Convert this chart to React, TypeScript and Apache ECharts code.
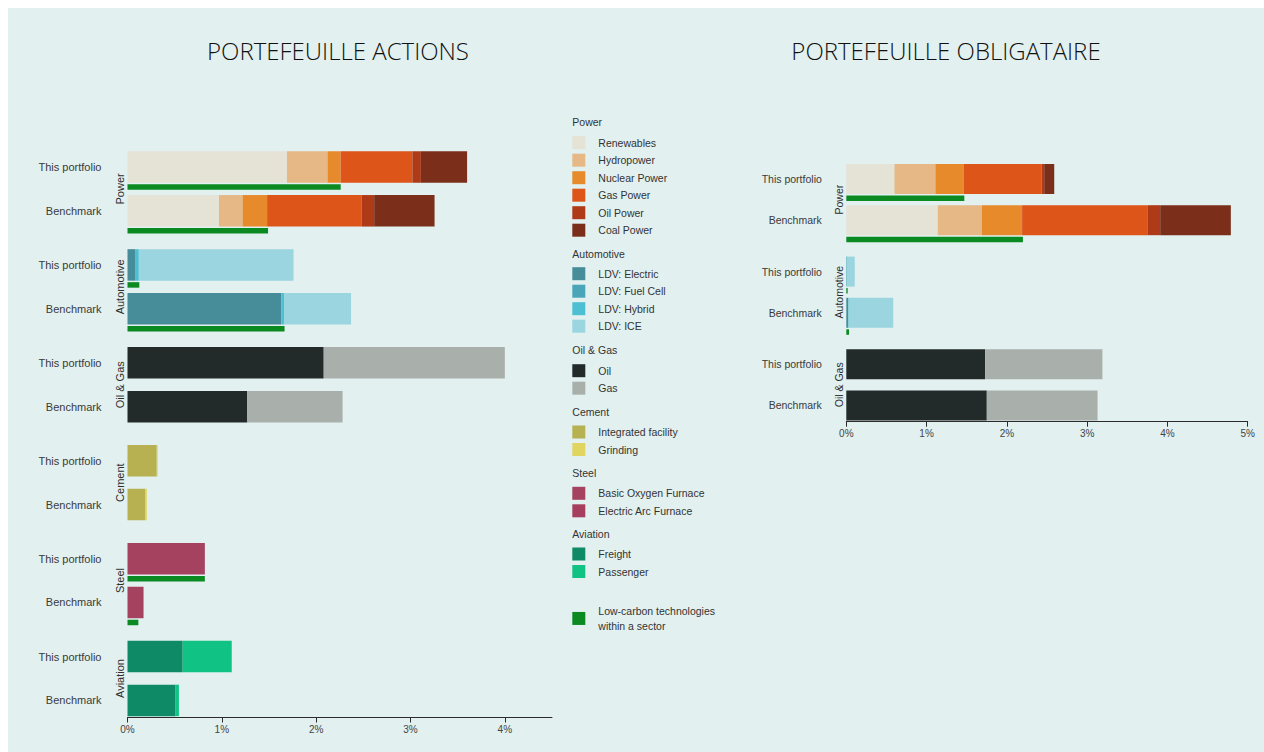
import React, { useEffect, useRef } from 'react';
import * as echarts from 'echarts';

// ---------- categories ----------
const techNames = [
  'Renewables', 'Hydropower', 'Nuclear Power', 'Gas Power', 'Oil Power', 'Coal Power',
  'LDV: Electric', 'LDV: Fuel Cell', 'LDV: Hybrid', 'LDV: ICE',
  'Oil', 'Gas',
  'Integrated facility', 'Grinding',
  'Basic Oxygen Furnace', 'Electric Arc Furnace',
  'Freight', 'Passenger',
];
const techSector = [
  'Power', 'Power', 'Power', 'Power', 'Power', 'Power',
  'Automotive', 'Automotive', 'Automotive', 'Automotive',
  'Oil & Gas', 'Oil & Gas',
  'Cement', 'Cement',
  'Steel', 'Steel',
  'Aviation', 'Aviation',
];
const techColors = [
  '#e5e2d6', '#e5b885', '#e78a2c', '#dd5519', '#ae3a18', '#7b2e19',
  '#468c99', '#4ba5b8', '#4cbfd3', '#9ad5e0',
  '#222b29', '#a9b0ac',
  '#b7b152', '#e0d560',
  '#a5425f', '#a63f5e',
  '#0f8a67', '#10c385',
];
const lowCarbonName = 'Low-carbon technologies within a sector';
const lowCarbonColor = '#0b8a22';
const rowLabels = ['This portfolio', 'Benchmark'];
const legendHeaders = ['Power', 'Automotive', 'Oil & Gas', 'Cement', 'Steel', 'Aviation'];

const equitySectors = ['Power', 'Automotive', 'Oil & Gas', 'Cement', 'Steel', 'Aviation'];
const bondSectors = ['Power', 'Automotive', 'Oil & Gas'];

// ---------- equity values (%), [This portfolio, Benchmark] ----------
const eqRenewables = [1.69, 0.97];
const eqHydropower = [0.43, 0.25];
const eqNuclear = [0.14, 0.26];
const eqGasPower = [0.76, 1.0];
const eqOilPower = [0.09, 0.135];
const eqCoalPower = [0.49, 0.64];
const eqElectric = [0.08, 1.63];
const eqFuelCell = [0, 0];
const eqHybrid = [0.04, 0.03];
const eqICE = [1.64, 0.71];
const eqOil = [2.08, 1.27];
const eqGas = [1.92, 1.01];
const eqIntegrated = [0.31, 0.19];
const eqGrinding = [0.01, 0.015];
const eqBOF = [0.82, 0.17];
const eqEAF = [0, 0];
const eqFreight = [0.585, 0.51];
const eqPassenger = [0.52, 0.035];
const eqLowCarbonPower = [2.26, 1.49];
const eqLowCarbonAuto = [0.125, 1.665];
const eqLowCarbonSteel = [0.82, 0.115];

// ---------- bond values (%), [This portfolio, Benchmark] ----------
const bdRenewables = [0.6, 1.14];
const bdHydropower = [0.51, 0.55];
const bdNuclear = [0.35, 0.5];
const bdGasPower = [0.975, 1.56];
const bdOilPower = [0.03, 0.16];
const bdCoalPower = [0.125, 0.88];
const bdElectric = [0.005, 0.025];
const bdFuelCell = [0, 0];
const bdHybrid = [0.01, 0.005];
const bdICE = [0.09, 0.555];
const bdOil = [1.73, 1.75];
const bdGas = [1.46, 1.38];
const bdLowCarbonPower = [1.47, 2.2];
const bdLowCarbonAuto = [0.017, 0.034];

const equityTech = [
  eqRenewables, eqHydropower, eqNuclear, eqGasPower, eqOilPower, eqCoalPower,
  eqElectric, eqFuelCell, eqHybrid, eqICE, eqOil, eqGas,
  eqIntegrated, eqGrinding, eqBOF, eqEAF, eqFreight, eqPassenger,
];
const bondTech = [
  bdRenewables, bdHydropower, bdNuclear, bdGasPower, bdOilPower, bdCoalPower,
  bdElectric, bdFuelCell, bdHybrid, bdICE, bdOil, bdGas,
  null, null, null, null, null, null,
];
const equityLowCarbon = [
  ['Power', eqLowCarbonPower], ['Automotive', eqLowCarbonAuto], ['Steel', eqLowCarbonSteel],
] as [string, number[]][];
const bondLowCarbon = [
  ['Power', bdLowCarbonPower], ['Automotive', bdLowCarbonAuto],
] as [string, number[]][];

const FONT = "'Liberation Sans', Arial, sans-serif";

type PanelLayout = {
  left: number; width: number; firstTop: number; sectorPitch: number; rowPitch: number;
  barW: number; greenW: number; gap: string; labelSize: number; labelMargin: number;
  max: number; axisOffset: number; showMax: boolean;
};

function buildPanel(
  sectors: string[], techValues: (number[] | null)[], lowCarbon: [string, number[]][],
  gridStart: number, L: PanelLayout,
) {
  const grids: any[] = [];
  const xAxes: any[] = [];
  const yAxes: any[] = [];
  const series: any[] = [];
  sectors.forEach((sec, k) => {
    const gi = gridStart + k;
    const isLast = k === sectors.length - 1;
    grids.push({
      left: L.left, width: L.width, top: L.firstTop + k * L.sectorPitch, height: 2 * L.rowPitch,
      containLabel: false,
    });
    xAxes.push({
      type: 'value', gridIndex: gi, min: 0, max: L.max, interval: 1, show: isLast,
      offset: L.axisOffset,
      axisLine: { show: true, lineStyle: { color: '#2b2b2b', width: 1 } },
      axisTick: { show: true, length: 5, lineStyle: { color: '#2b2b2b', width: 1 } },
      splitLine: { show: false },
      axisLabel: {
        formatter: '{value}%', margin: 7, fontSize: 10, color: '#444', fontFamily: FONT,
        showMaxLabel: L.showMax,
      },
    });
    yAxes.push({
      type: 'category', gridIndex: gi, position: 'left', inverse: true, data: rowLabels,
      name: sec, nameLocation: 'middle', nameRotate: 90, nameGap: 2, nameMoveOverlap: false,
      nameTextStyle: { fontSize: L.labelSize, color: '#2e2e2e', fontFamily: FONT, padding: [0, 0, 0, 7] },
      axisLine: { show: false }, axisTick: { show: false }, splitLine: { show: false },
      axisLabel: {
        interval: 0, margin: L.labelMargin, fontSize: L.labelSize, color: '#3a3a3a', fontFamily: FONT,
        verticalAlign: 'bottom', lineHeight: 7,
      },
    });
    techNames.forEach((name, t) => {
      const vals = techValues[t];
      if (!vals || techSector[t] !== sec) return;
      series.push({
        type: 'bar', name, xAxisIndex: gi, yAxisIndex: gi, stack: 'main' + gi,
        barWidth: L.barW, barGap: L.gap, itemStyle: { color: techColors[t] }, data: vals,
      });
    });
    const lc = lowCarbon.find(([s]) => s === sec);
    series.push({
      type: 'bar', name: lowCarbonName, xAxisIndex: gi, yAxisIndex: gi,
      barWidth: L.greenW, barGap: L.gap, itemStyle: { color: lowCarbonColor },
      data: lc ? lc[1] : [null, null],
    });
  });
  return { grids, xAxes, yAxes, series };
}

export default function App() {
  const ref = useRef<HTMLDivElement>(null);
  useEffect(() => {
    if (!ref.current) return;
    const chart = echarts.init(ref.current, undefined, { renderer: 'svg' });
    const left = buildPanel(equitySectors, equityTech, equityLowCarbon, 0, {
      left: 119.5, width: 424.5, firstTop: 140.6, sectorPitch: 97.92, rowPitch: 43.8,
      barW: 31.5, greenW: 5.5, gap: '4.76%', labelSize: 11, labelMargin: 26,
      max: 4.5, axisOffset: -8.3, showMax: false,
    });
    const right = buildPanel(bondSectors, bondTech, bondLowCarbon, equitySectors.length, {
      left: 838.3, width: 401.4, firstTop: 153.9, sectorPitch: 92.6, rowPitch: 41.2,
      barW: 30, greenW: 5.5, gap: '5%', labelSize: 10.5, labelMargin: 24.5,
      max: 5, axisOffset: -7.8, showMax: true,
    });

    const legendTops = [128.2, 259.2, 356.2, 417.5, 478.8, 539.5];
    const headerYs = [114, 246, 342, 403.7, 464.7, 525.7];
    const legends: any[] = legendHeaders.map((h, g) => ({
      orient: 'vertical', left: 564.3, top: legendTops[g], padding: 0,
      itemWidth: 13, itemHeight: 13, itemGap: 4.5, icon: 'rect', selectedMode: false,
      textStyle: { fontSize: 10.5, color: '#333', fontFamily: FONT, padding: [0, 0, 0, 8] },
      data: techNames.filter((_, t) => techSector[t] === h),
    }));
    legends.push({
      orient: 'vertical', left: 564.3, top: 593, padding: 0,
      itemWidth: 13, itemHeight: 13, icon: 'rect', selectedMode: false,
      textStyle: { fontSize: 10.5, color: '#333', fontFamily: FONT, padding: [5.5, 0, 0, 8], lineHeight: 14.7 },
      formatter: () => 'Low-carbon technologies\nwithin a sector',
      data: [lowCarbonName],
    });

    const titleFont = "300 24px 'Open Sans', Lato, sans-serif";
    chart.setOption({
      animation: false,
      textStyle: { fontFamily: FONT },
      grid: [...left.grids, ...right.grids],
      xAxis: [...left.xAxes, ...right.xAxes],
      yAxis: [...left.yAxes, ...right.yAxes],
      legend: legends,
      graphic: [
        {
          type: 'text', x: 330, y: 42,
          style: { text: 'PORTEFEUILLE ACTIONS', fill: '#111', font: titleFont, textAlign: 'center', textVerticalAlign: 'middle' },
        },
        {
          type: 'text', x: 938, y: 42,
          style: { text: 'PORTEFEUILLE OBLIGATAIRE', fill: '#111', font: titleFont, textAlign: 'center', textVerticalAlign: 'middle' },
        },
        ...legendHeaders.map((h, g) => ({
          type: 'text', x: 564.3, y: headerYs[g],
          style: { text: h, fill: '#333', font: `10.5px ${FONT}`, textAlign: 'left', textVerticalAlign: 'middle' },
        })),
      ],
      series: [...left.series, ...right.series],
    });
    return () => chart.dispose();
  }, []);
  return (
    <div style={{ position: 'fixed', left: 8, top: 8, width: 1256, height: 744, background: '#e2f0f0' }}>
      <div ref={ref} style={{ width: 1256, height: 744 }} />
    </div>
  );
}
